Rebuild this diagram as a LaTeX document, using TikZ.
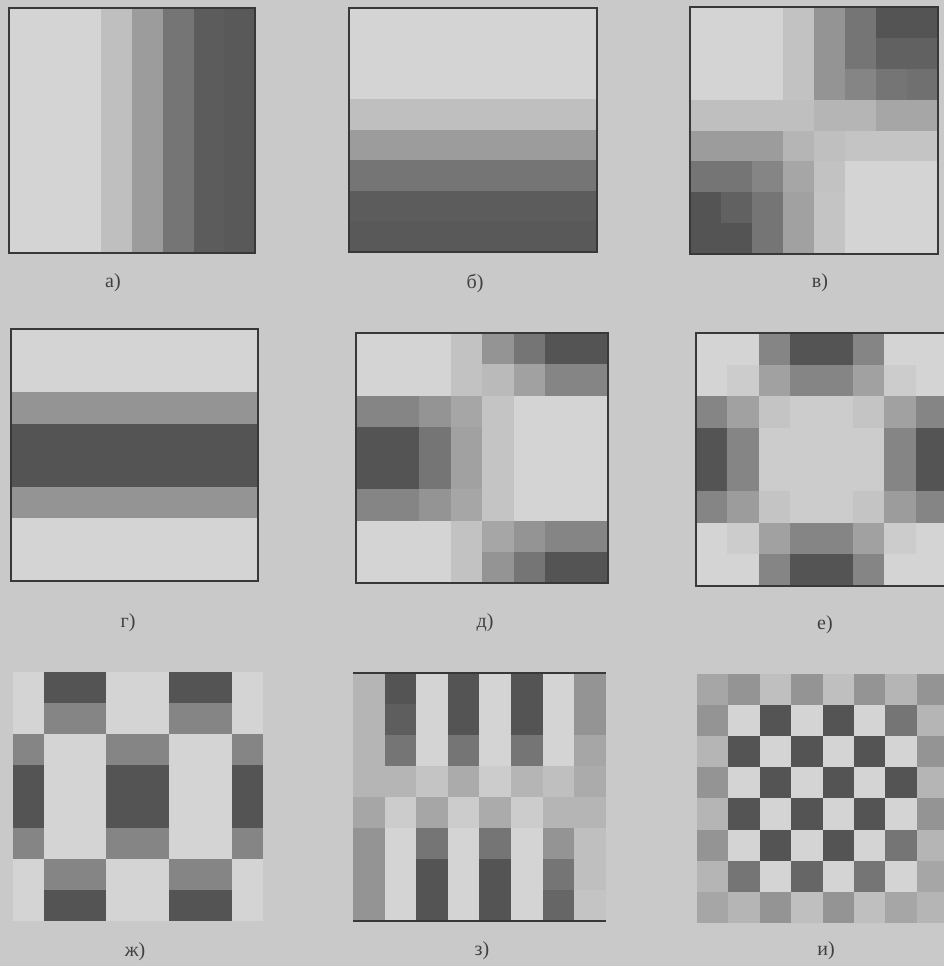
\documentclass[tikz,border=0pt]{standalone}
\usepackage{fontspec}
\setmainfont{Liberation Serif}
\tikzset{
  frameline/.style={draw=black!78, line width=1.1pt},
  panellabel/.style={font=\fontsize{15}{18}\selectfont, text=black!75, inner sep=0pt},
}
% #1 x0, #2 y0, #3 cell w, #4 cell h, #5 rows of shade levels (0 light .. 4 dark)
\newcommand\cellgrid[5]{%
  \foreach \rowdata [count=\r from 0] in {#5} {%
    \foreach \v [count=\c from 0] in \rowdata {%
      \pgfmathtruncatemacro\p{17+12.5*\v}%
      \fill[black!\p] ({#1+\c*#3},{#2+\r*#4}) rectangle ++({#3+0.4},{#4+0.4});
    }%
  }%
}
\begin{document}
\begin{tikzpicture}[x=0.75pt,y=-0.75pt]
\fill[black!21] (0,0) rectangle (944,966);
\useasboundingbox (0,0) rectangle (944,966);

% a)
\cellgrid{9}{8}{30.75}{30.6}{%
{0,0,0,0.7,1.8,3,3.8,3.9},{0,0,0,0.7,1.8,3,3.8,3.9},{0,0,0,0.7,1.8,3,3.8,3.9},{0,0,0,0.7,1.8,3,3.8,3.9},%
{0,0,0,0.7,1.8,3,3.8,3.9},{0,0,0,0.7,1.8,3,3.8,3.9},{0,0,0,0.7,1.8,3,3.8,3.9},{0,0,0,0.7,1.8,3,3.8,3.9}}
\draw[frameline] (9,8) rectangle (255,253);
\node[panellabel] (la) at (113,283) {а)};

% б)
\cellgrid{349}{8}{31}{30.5}{%
{0,0,0,0,0,0,0,0},{0,0,0,0,0,0,0,0},{0,0,0,0,0,0,0,0},{0.7,0.7,0.7,0.7,0.7,0.7,0.7,0.7},%
{1.8,1.8,1.8,1.8,1.8,1.8,1.8,1.8},{3,3,3,3,3,3,3,3},{3.8,3.8,3.8,3.8,3.8,3.8,3.8,3.8},{3.9,3.9,3.9,3.9,3.9,3.9,3.9,3.9}}
\draw[frameline] (349,8) rectangle (597,252);
\node[panellabel] (lb) at (475,283) {б)};

% в)
\cellgrid{690}{7}{31}{30.9}{%
{0,0,0,0.6,2,3,4,4},{0,0,0,0.6,2,3,3.6,3.6},{0,0,0,0.6,2,2.5,3,3.2},{0.7,0.7,0.7,0.7,1,1,1.5,1.5},%
{1.8,1.8,1.8,1,0.7,0.5,0.5,0.5},{3,3,2.5,1.5,0.6,0,0,0},{4,3.6,3,1.6,0.5,0,0,0},{4,4,3,1.6,0.5,0,0,0}}
\draw[frameline] (690,7) rectangle (938,254);
\node[panellabel] (lc) at (820,283) {в)};

% г)
\cellgrid{11}{329}{30.9}{31.5}{%
{0,0,0,0,0,0,0,0},{0,0,0,0,0,0,0,0},{2,2,2,2,2,2,2,2},{4,4,4,4,4,4,4,4},%
{4,4,4,4,4,4,4,4},{2,2,2,2,2,2,2,2},{0,0,0,0,0,0,0,0},{0,0,0,0,0,0,0,0}}
\draw[frameline] (11,329) rectangle (258,581);
\node[panellabel] (ld) at (128,623) {г)};

% д)
\cellgrid{356}{333}{31.5}{31.25}{%
{0,0,0,0.6,2,3,4,4},{0,0,0,0.6,0.8,1.6,2.5,2.5},{2.5,2.5,2,1.5,0.5,0,0,0},{4,4,3,1.6,0.5,0,0,0},%
{4,4,3,1.6,0.5,0,0,0},{2.5,2.5,2,1.5,0.5,0,0,0},{0,0,0,0.6,1.5,2,2.5,2.5},{0,0,0,0.6,2,3,4,4}}
\draw[frameline] (356,333) rectangle (608,583);
\node[panellabel] (le) at (485,623) {д)};

% е)
\cellgrid{696}{333}{31.4}{31.6}{%
{0,0,2.5,4,4,2.5,0,0},{0,0.3,1.6,2.5,2.5,1.6,0.3,0},{2.5,1.6,0.5,0.3,0.3,0.5,1.6,2.5},{4,2.5,0.3,0.3,0.3,0.3,2.5,4},%
{4,2.5,0.3,0.3,0.3,0.3,2.5,4},{2.5,1.8,0.5,0.3,0.3,0.5,1.8,2.5},{0,0.3,1.6,2.5,2.5,1.6,0.3,0},{0,0,2.5,4,4,2.5,0,0}}
\draw[frameline] (947,333) -- (696,333) -- (696,586) -- (947,586);
\node[panellabel] (lf) at (825,625) {е)};

% ж)
\cellgrid{12.5}{672}{31.3}{31.1}{%
{0,4,4,0,0,4,4,0},{0,2.5,2.5,0,0,2.5,2.5,0},{2.5,0,0,2.5,2.5,0,0,2.5},{4,0,0,4,4,0,0,4},%
{4,0,0,4,4,0,0,4},{2.5,0,0,2.5,2.5,0,0,2.5},{0,2.5,2.5,0,0,2.5,2.5,0},{0,4,4,0,0,4,4,0}}
\node[panellabel] (lg) at (135,952) {ж)};

% з)
\cellgrid{353}{673}{31.6}{31}{%
{1,4,0,4,0,4,0,2},{1,3.7,0,4,0,4,0,2},{1,3,0,3,0,3,0,1.5},{1,1,0.5,1.3,0.3,1,0.7,1.3},%
{1.5,0.3,1.5,0.3,1.3,0.3,1,1},{2,0,3,0,3,0,2,0.7},{2,0,4,0,4,0,3,0.7},{2,0,4,0,4,0,3.5,0.5}}
\draw[frameline] (353,673) -- (606,673);
\draw[frameline] (353,921) -- (606,921);
\node[panellabel] (lh) at (482,951) {з)};

% и)
\cellgrid{697}{674}{31.4}{31.1}{%
{1.5,2,0.7,2,0.7,2,1,2},{2,0,4,0,4,0,3,1},{1,4,0,4,0,4,0,2},{2,0,4,0,4,0,4,1},%
{1,4,0,4,0,4,0,2},{2,0,4,0,4,0,3,1},{1,3,0,3.5,0,3,0,1.5},{1.5,1,2,0.7,2,0.7,1.5,1}}
\node[panellabel] (li) at (826,951) {и)};
\end{tikzpicture}
\end{document}
